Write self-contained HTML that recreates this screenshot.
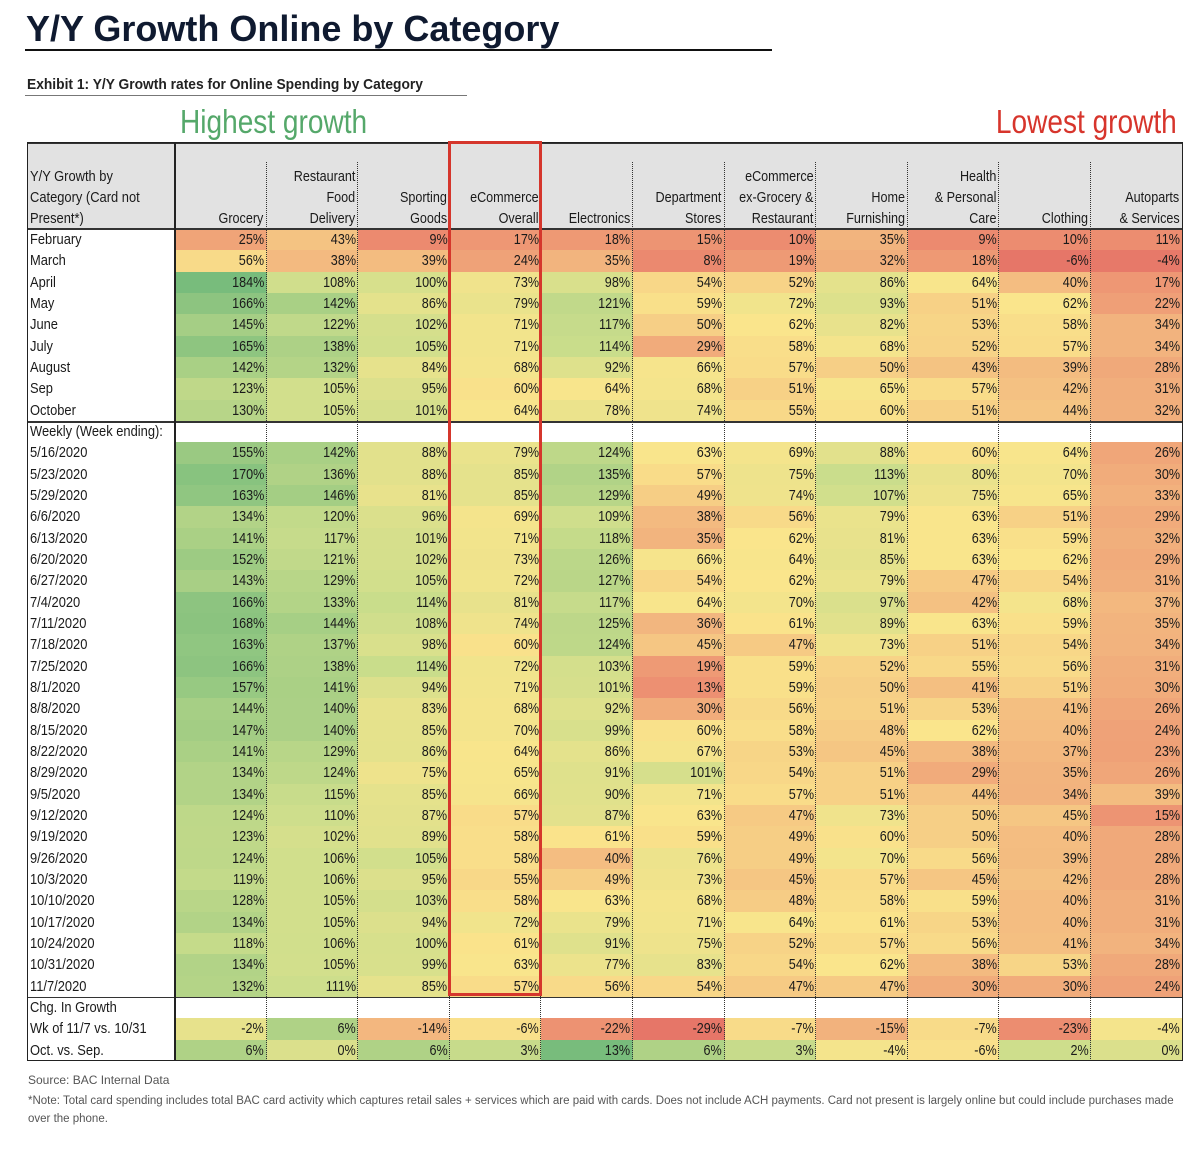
<!DOCTYPE html>
<html><head><meta charset="utf-8"><style>
body{margin:0;background:#fff;width:1199px;height:1153px;position:relative;overflow:hidden;font-family:"Liberation Sans",sans-serif;color:#1a1a1a}
.a{position:absolute}
.c{position:absolute;box-sizing:border-box;font-size:15px;line-height:21px;white-space:nowrap}
.r{text-align:right;padding-right:3px}
.l{text-align:left;padding-left:3px}
.h{font-size:15px;line-height:21px;text-align:right;padding-right:3px;position:absolute;box-sizing:border-box;white-space:nowrap}
.sr{display:inline-block;transform:scaleX(0.84);transform-origin:right center}
.sl{display:inline-block;transform:scaleX(0.86);transform-origin:left center}
</style></head><body>
<div class="a" style="left:26px;top:8px;font:bold 36px 'Liberation Sans',sans-serif;color:#0f1a30">Y/Y Growth Online by Category</div>
<div class="a" style="left:25px;top:49px;width:747px;height:2px;background:#111"></div>
<div class="a" style="left:27px;top:76px;font:bold 15px 'Liberation Sans',sans-serif;color:#222;transform:scaleX(0.92);transform-origin:left"><span>Exhibit 1: Y/Y Growth rates for Online Spending by Category</span></div>
<div class="a" style="left:25px;top:95px;width:442px;height:1px;background:#777"></div>
<div class="a" style="left:180px;top:103px;font-size:33px;color:#55a86a;transform:scaleX(0.85);transform-origin:left">Highest growth</div>
<div class="a" style="right:22px;top:103px;font-size:33px;color:#d7352c;transform:scaleX(0.85);transform-origin:right">Lowest growth</div>
<div id="tbl"></div>
<div class="a" style="left:28px;top:1073px;font:12px 'Liberation Sans',sans-serif;color:#555">Source: BAC Internal Data</div>
<div class="a" style="left:28px;top:1092px;width:1150px;font:11.5px/18px 'Liberation Sans',sans-serif;color:#555">*Note: Total card spending includes total BAC card activity which captures retail sales + services which are paid with cards. Does not include ACH payments. Card not present is largely online but could include purchases made over the phone.</div>
<script>
const categories=[["Grocery"],["Restaurant","Food","Delivery"],["Sporting","Goods"],["eCommerce","Overall"],["Electronics"],["Department","Stores"],["eCommerce","ex-Grocery &","Restaurant"],["Home","Furnishing"],["Health","& Personal","Care"],["Clothing"],["Autoparts","& Services"]];
const monthLabels=["February","March","April","May","June","July","August","Sep","October"];
const monthValues=[
[25,43,9,17,18,15,10,35,9,10,11],
[56,38,39,24,35,8,19,32,18,-6,-4],
[184,108,100,73,98,54,52,86,64,40,17],
[166,142,86,79,121,59,72,93,51,62,22],
[145,122,102,71,117,50,62,82,53,58,34],
[165,138,105,71,114,29,58,68,52,57,34],
[142,132,84,68,92,66,57,50,43,39,28],
[123,105,95,60,64,68,51,65,57,42,31],
[130,105,101,64,78,74,55,60,51,44,32]];
const weekLabels=["5/16/2020","5/23/2020","5/29/2020","6/6/2020","6/13/2020","6/20/2020","6/27/2020","7/4/2020","7/11/2020","7/18/2020","7/25/2020","8/1/2020","8/8/2020","8/15/2020","8/22/2020","8/29/2020","9/5/2020","9/12/2020","9/19/2020","9/26/2020","10/3/2020","10/10/2020","10/17/2020","10/24/2020","10/31/2020","11/7/2020"];
const weekValues=[
[155,142,88,79,124,63,69,88,60,64,26],
[170,136,88,85,135,57,75,113,80,70,30],
[163,146,81,85,129,49,74,107,75,65,33],
[134,120,96,69,109,38,56,79,63,51,29],
[141,117,101,71,118,35,62,81,63,59,32],
[152,121,102,73,126,66,64,85,63,62,29],
[143,129,105,72,127,54,62,79,47,54,31],
[166,133,114,81,117,64,70,97,42,68,37],
[168,144,108,74,125,36,61,89,63,59,35],
[163,137,98,60,124,45,47,73,51,54,34],
[166,138,114,72,103,19,59,52,55,56,31],
[157,141,94,71,101,13,59,50,41,51,30],
[144,140,83,68,92,30,56,51,53,41,26],
[147,140,85,70,99,60,58,48,62,40,24],
[141,129,86,64,86,67,53,45,38,37,23],
[134,124,75,65,91,101,54,51,29,35,26],
[134,115,85,66,90,71,57,51,44,34,39],
[124,110,87,57,87,63,47,73,50,45,15],
[123,102,89,58,61,59,49,60,50,40,28],
[124,106,105,58,40,76,49,70,56,39,28],
[119,106,95,55,49,73,45,57,45,42,28],
[128,105,103,58,63,68,48,58,59,40,31],
[134,105,94,72,79,71,64,61,53,40,31],
[118,106,100,61,91,75,52,57,56,41,34],
[134,105,99,63,77,83,54,62,38,53,28],
[132,111,85,57,56,54,47,47,30,30,24]];
const chgLabels=["Wk of 11/7 vs. 10/31","Oct. vs. Sep."];
const chgValues=[
[-2,6,-14,-6,-22,-29,-7,-15,-7,-23,-4],
[6,0,6,3,13,6,3,-4,-6,2,0]];

const T=document.getElementById('tbl');
const X0=27,LW=148,CW=91.6,Y0=142,HH=87,RH=21.33;
const colX=i=>X0+LW+i*CW;
const rowY=i=>Y0+HH+i*RH;
const stops=[[0,[230,118,104]],[0.12,[236,140,112]],[0.3,[242,180,126]],[0.5,[250,229,140]],[0.7,[205,222,140]],[1,[120,188,124]]];
function scale(v,lo,mid,hi){let t=v<=mid?0.5*(v-lo)/(mid-lo):0.5+0.5*(v-mid)/(hi-mid);t=Math.max(0,Math.min(1,t));
 for(let i=1;i<stops.length;i++){if(t<=stops[i][0]){const a=stops[i-1],b=stops[i],u=(t-a[0])/(b[0]-a[0]);return 'rgb('+a[1].map((c,k)=>Math.round(c+(b[1][k]-c)*u)).join(',')+')';}}return 'rgb(120,188,124)';}
function box(x,y,w,h,css){const d=document.createElement('div');d.className='a';d.style.cssText=`left:${x}px;top:${y}px;width:${w}px;height:${h}px;`+css;T.appendChild(d);return d;}
const hb=box(X0,Y0,LW+11*CW,HH,'background:#e2e2e2');


const hl=box(X0,Y0+HH-63,LW,63,'font-size:15px;line-height:21px;padding-left:3px;box-sizing:border-box;white-space:nowrap');
hl.innerHTML='<span class="sl">Y/Y Growth by</span><br><span class="sl">Category (Card not</span><br><span class="sl">Present*)</span>';


categories.forEach((c,i)=>{const d=box(colX(i),Y0+HH-c.length*21,CW,c.length*21,'');d.className='h';d.innerHTML=c.map(s=>'<span class="sr">'+s+'</span>').join('<br>');
 
 });
function dataRow(r,label,vals,lo,mid,hi,name){
 const y=rowY(r);
 const l=box(X0,y,LW,RH,'');l.className='c l';l.style.left=X0+'px';l.style.top=y+'px';l.style.width=LW+'px';l.innerHTML='<span class="sl">'+label+'</span>';
 
 
 vals.forEach((v,i)=>{const d=box(colX(i),y,CW+0.5,RH+0.5,'background:'+scale(v,lo,mid,hi));d.className='c r';d.innerHTML='<span class="sr">'+v+'%</span>';
  
  });}
function secRow(r,label,name){const l=box(X0,rowY(r),LW,RH,'');l.className='c l';l.style.left=X0+'px';l.style.top=rowY(r)+'px';l.innerHTML='<span class="sl">'+label+'</span>';
 
 }
let r=0;
monthLabels.forEach((m,i)=>dataRow(r++,m,monthValues[i],-6,62,184,m.toLowerCase()));
secRow(r,'Weekly (Week ending):','weekly-section-label');const wY=rowY(r);r++;
weekLabels.forEach((m,i)=>dataRow(r++,m,weekValues[i],-6,62,184,m.replace(/\//g,'-')));
const rb=rowY(r);secRow(r,'Chg. In Growth','change-section-label');const cY=rowY(r);r++;
chgLabels.forEach((m,i)=>dataRow(r++,m,chgValues[i],-29,-5,13,'chg-'+i));
const yEnd=rowY(r);
for(let i=0;i<11;i++){const d=box(colX(i+1)-1,Y0+20,0,yEnd-Y0-20,'border-left:1px dotted #333');}
[[Y0,2],[Y0+HH-1,2],[wY,2],[cY,1.5]].forEach(([y,h])=>{const d=box(X0,y,LW+11*CW,h,'background:#333');});
const fr=box(X0,Y0,LW+11*CW,yEnd-Y0,'border:1.5px solid #222;box-sizing:border-box');


const sep=box(X0+LW-1,Y0,1.5,yEnd-Y0,'background:#222');


const hi=box(colX(3)-2,Y0-1,CW+3,rb-Y0,'border:3px solid #d5362c;box-sizing:border-box');


</script>
</body></html>
